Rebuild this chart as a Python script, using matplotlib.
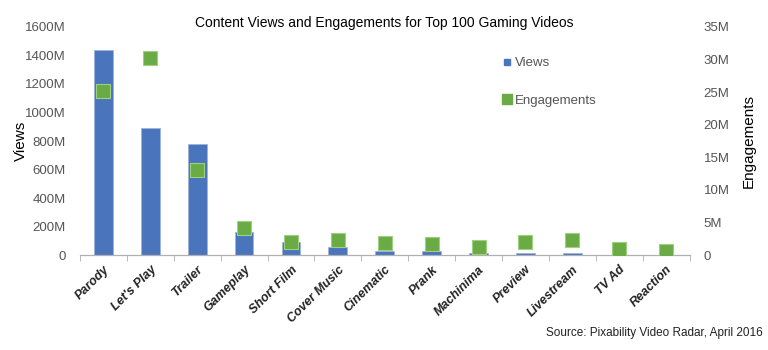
import matplotlib.pyplot as plt
from matplotlib.lines import Line2D
from matplotlib.ticker import FuncFormatter, MultipleLocator

plt.rcParams['font.family'] = ['Liberation Sans', 'DejaVu Sans']

# top 100 gaming videos by content type
categories = ['Parody', "Let's Play", 'Trailer', 'Gameplay', 'Short Film', 'Cover Music',
              'Cinematic', 'Prank', 'Machinima', 'Preview', 'Livestream', 'TV Ad', 'Reaction']
views_m = [1440, 890, 782, 160, 90, 57, 32, 26, 15, 15, 12, 1, 1]
engagements_m = [25.2, 30.2, 13.1, 4.2, 1.95, 2.4, 1.8, 1.64, 1.18, 2.04, 2.4, 0.87, 0.66]

blue = '#4a75bd'
green = '#6aab46'
grey = '#555555'

fig = plt.figure(figsize=(7.68, 3.5), dpi=100)
ax = fig.add_axes([0.104, 0.271, 0.794, 0.652])
ax2 = ax.twinx()

x = list(range(len(categories)))
ax.bar(x, views_m, width=0.4, color=blue, edgecolor='#9db4dc', linewidth=0.6, zorder=2)
ax2.scatter(x, engagements_m, marker='s', s=95, color=green, edgecolors='#9fd07f',
            linewidths=0.8, zorder=3)

ax.set_xlim(-0.5, len(categories) - 0.5)
ax.set_ylim(0, 1600)
ax2.set_ylim(0, 35)
ax.yaxis.set_major_locator(MultipleLocator(200))
ax2.yaxis.set_major_locator(MultipleLocator(5))
ax.yaxis.set_major_formatter(FuncFormatter(lambda v, p: '0' if v == 0 else f'{v:.0f}M'))
ax2.yaxis.set_major_formatter(FuncFormatter(lambda v, p: '0' if v == 0 else f'{v:.0f}M'))

for a in (ax, ax2):
    for s in ('top', 'left', 'right'):
        a.spines[s].set_visible(False)
    a.spines['bottom'].set_color('#b0b0b0')
    a.tick_params(axis='y', length=0, labelsize=9.5, labelcolor=grey, pad=10)

ax.set_xticks(x)
ax.set_xticklabels(categories, rotation=45, ha='right', rotation_mode='anchor',
                   fontsize=9, fontweight='bold', fontstyle='italic', color='#222222')
ax.tick_params(axis='x', length=0, pad=6)
# category boundary ticks on the axis line
ax.set_xticks([i - 0.5 for i in range(len(categories) + 1)], minor=True)
ax.tick_params(axis='x', which='minor', length=4, color='#b0b0b0')

ax.set_ylabel('Views', fontsize=11)
ax.yaxis.set_label_coords(-0.085, 0.5)
ax2.set_ylabel('Engagements', fontsize=11)
ax2.yaxis.set_label_coords(1.085, 0.5)

fig.text(0.5, 0.934, 'Content Views and Engagements for Top 100 Gaming Videos',
         ha='center', va='center', fontsize=10)
fig.text(0.993, 0.048, 'Source: Pixability Video Radar, April 2016', ha='right', va='center',
         fontsize=8.5, color='#222222')

handles = [Line2D([], [], ls='none', marker='s', markersize=5, color=blue),
           Line2D([], [], ls='none', marker='s', markersize=7, color=green)]
ax2.legend(handles, ['Views', 'Engagements'], loc='upper left', bbox_to_anchor=(0.675, 0.92),
           frameon=False, fontsize=9.5, labelspacing=1.9, handlelength=0.6, handletextpad=0.3,
           labelcolor=grey)

fig.savefig('out.png', dpi=100)
